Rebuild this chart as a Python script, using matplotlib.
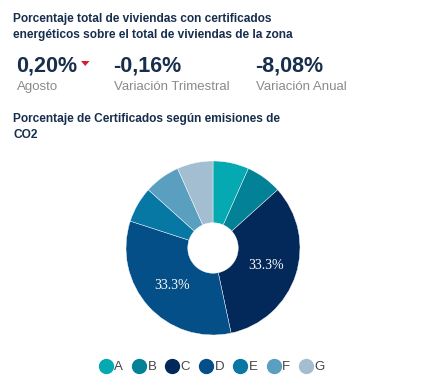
import matplotlib.pyplot as plt
from matplotlib.lines import Line2D
from matplotlib.patches import Polygon

W, H = 437, 391

labels = ["A", "B", "C", "D", "E", "F", "G"]
values = [1, 1, 5, 5, 1, 1, 1]
colors = ["#04a9b1", "#028197", "#03295a", "#044f87", "#0777a3", "#5a9fc0", "#a4bed1"]

kpi_values = ["0,20%", "-0,16%", "-8,08%"]
kpi_labels = ["Agosto", "Variación Trimestral", "Variación Anual"]
kpi_x = [16, 113, 255]

NAVY = "#172e4d"
GRAY = "#8a8a8a"

plt.rcParams["font.family"] = ["Liberation Sans", "DejaVu Sans"]

fig = plt.figure(figsize=(W / 100, H / 100), dpi=100)


def px(x, y):
    return x / W, 1 - y / H


fig.text(*px(13, 27), "Porcentaje total de viviendas con certificados\nenergéticos sobre el total de viviendas de la zona",
         fontsize=8.6, fontweight="bold", color=NAVY, va="center", linespacing=1.5)

for x, v, lab in zip(kpi_x, kpi_values, kpi_labels):
    fig.text(*px(x, 66), v, fontsize=15.5, fontweight="bold", color=NAVY, va="center")
    fig.text(*px(x + 1, 87), lab, fontsize=9.5, color=GRAY, va="center")

# small red down arrow next to the first value
fig.add_artist(Polygon([px(81, 61), px(89.5, 61), px(85.25, 66)], closed=True,
                       transform=fig.transFigure, facecolor="#d0202a", edgecolor="none"))

fig.text(*px(13, 127), "Porcentaje de Certificados según emisiones de\nCO2",
         fontsize=8.6, fontweight="bold", color=NAVY, va="center", linespacing=1.5)

cx, cy, r = 213, 248, 87
ax = fig.add_axes([(cx - r) / W, (H - cy - r) / H, 2 * r / W, 2 * r / H])
wedges, _, autotexts = ax.pie(
    values, colors=colors, startangle=90, counterclock=False, radius=1,
    autopct=lambda p: f"{p:.1f}%" if p > 20 else "", pctdistance=0.64,
    wedgeprops=dict(width=0.71, edgecolor="white", linewidth=0.3),
    textprops=dict(color="white", fontsize=10, family="Liberation Serif"),
)
ax.set_xlim(-1, 1)
ax.set_ylim(-1, 1)
ax.set_aspect("equal")
ax.axis("off")

handles = [Line2D([], [], marker="o", linestyle="", markersize=10, markerfacecolor=c,
                  markeredgecolor=c) for c in colors]
fig.legend(handles, labels, loc="center", bbox_to_anchor=px(212, 367), ncol=7, frameon=False,
           fontsize=9.5, handletextpad=0.15, columnspacing=0.7, handlelength=1.0,
           labelcolor="#444444")

fig.savefig("out.png", dpi=100)
